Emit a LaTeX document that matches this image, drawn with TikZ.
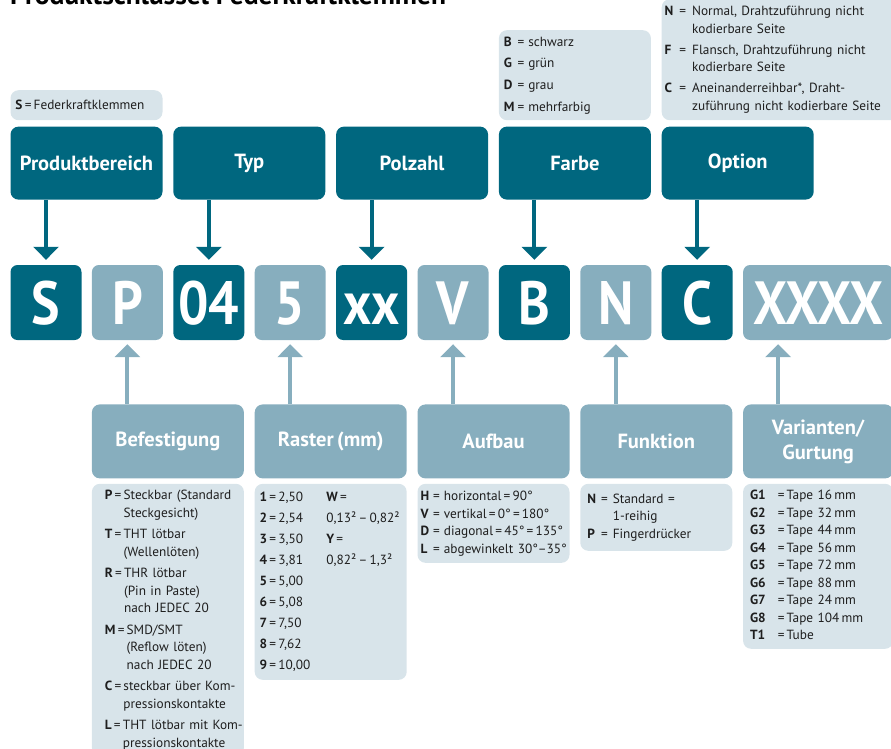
\documentclass[tikz,border=0pt]{standalone}
\usepackage{fontspec}
\setmainfont{PT Sans}
\newfontfamily\codefont{PT Sans}[FakeStretch=0.88]
\usetikzlibrary{arrows.meta,positioning}

\definecolor{petrol}{RGB}{0,103,127}
\definecolor{steel}{RGB}{135,174,190}
\definecolor{mist}{RGB}{216,228,234}
\definecolor{ink}{RGB}{30,30,30}

\newcommand{\indentkey}[1]{\phantom{\textbf{#1}\,=\,}}

\tikzset{
  codebox/.style={rounded corners=7pt, minimum width=71pt, minimum height=75pt, inner sep=0pt,
    text height=43pt, text depth=0pt, text=white, font=\codefont\bfseries\fontsize{61}{61}\selectfont},
  dark/.style={fill=petrol},
  pale/.style={fill=steel},
  headbox/.style={rounded corners=8pt, fill=petrol, minimum width=152pt, minimum height=73pt,
    inner sep=0pt, text=white, align=center, font=\bfseries\fontsize{20.5}{25}\selectfont},
  footbox/.style={headbox, fill=steel, minimum height=74pt},
  infobox/.style={rounded corners=8pt, fill=mist, text=ink, inner xsep=6pt, inner ysep=2pt,
    align=left, font=\fontsize{13.3}{17.5}\selectfont},
  downarrow/.style={draw=petrol, line width=4pt, -{Triangle[width=25pt,length=13pt]}},
  uparrow/.style={downarrow, draw=steel}
}

\begin{document}
\begin{tikzpicture}[x=1pt,y=-1pt]
\useasboundingbox (0,0) rectangle (891,748);

\node[anchor=base west, inner sep=0pt, font=\bfseries\fontsize{27.5}{32}\selectfont] (title) at (10,4) {Produktschlüssel Federkraftklemmen};

\node[codebox,dark] (kS) at (46,302.5) {S};
\node[codebox,pale,right=10pt of kS] (kP) {P};
\node[codebox,dark,right=10pt of kP] (k04) {04};
\node[codebox,pale,right=10pt of k04] (k5) {5};
\node[codebox,dark,right=10pt of k5] (kxx) {xx};
\node[codebox,pale,right=10pt of kxx] (kV) {V};
\node[codebox,dark,right=10pt of kV] (kB) {B};
\node[codebox,pale,right=10pt of kB] (kN) {N};
\node[codebox,dark,right=10pt of kN] (kC) {C};
\node[codebox,pale,right=10pt of kC,minimum width=150pt] (kX) {XXXX};
\coordinate (kXmark) at ([xshift=-40pt]kX.south);

\node[headbox,anchor=south west] (hProd) at ([yshift=65pt]kS.north west) {Produktbereich};
\node[headbox,anchor=south west] (hTyp) at ([yshift=65pt]k04.north west) {Typ};
\node[headbox,anchor=south west] (hPol) at ([yshift=65pt]kxx.north west) {Polzahl};
\node[headbox,anchor=south west] (hFarbe) at ([yshift=65pt]kB.north west) {Farbe};
\node[headbox,anchor=south west] (hOpt) at ([yshift=65pt]kC.north west) {Option};

\node[footbox,anchor=north west] (bBef) at ([yshift=-64pt]kP.south west) {Befestigung};
\node[footbox,anchor=north west] (bRas) at ([yshift=-64pt]k5.south west) {Raster\,(mm)};
\node[footbox,anchor=north west] (bAuf) at ([yshift=-64pt]kV.south west) {Aufbau};
\node[footbox,anchor=north west] (bFun) at ([yshift=-64pt]kN.south west) {Funktion};
\node[footbox,anchor=north west,minimum width=150pt] (bVar) at ([yshift=-64pt]kX.south west) {Varianten/\\Gurtung};

\draw[downarrow, shorten >=5pt] (hProd.south -| kS.north) -- (kS.north);
\draw[downarrow, shorten >=5pt] (hTyp.south -| k04.north) -- (k04.north);
\draw[downarrow, shorten >=5pt] (hPol.south -| kxx.north) -- (kxx.north);
\draw[downarrow, shorten >=5pt] (hFarbe.south -| kB.north) -- (kB.north);
\draw[downarrow, shorten >=5pt] (hOpt.south -| kC.north) -- (kC.north);

\draw[uparrow, shorten >=4pt] (bBef.north -| kP.south) -- (kP.south);
\draw[uparrow, shorten >=4pt] (bRas.north -| k5.south) -- (k5.south);
\draw[uparrow, shorten >=4pt] (bAuf.north -| kV.south) -- (kV.south);
\draw[uparrow, shorten >=4pt] (bFun.north -| kN.south) -- (kN.south);
\draw[uparrow, shorten >=4pt] (bVar.north -| kXmark) -- (kXmark);

\node[infobox,anchor=south west,minimum width=152pt,minimum height=30pt,text width=142pt,inner xsep=5pt] (dS)
  at ([yshift=6pt]hProd.north west) {\textbf{S}\,=\,Federkraftklemmen};

\node[infobox,anchor=south west,minimum width=152pt,minimum height=90pt,text width=142pt,inner xsep=5pt] (dFarbe)
  at ([yshift=6pt]hFarbe.north west) {%
  \begin{tabular}{@{}l@{\hspace{3pt}}c@{\hspace{4pt}}l@{}}
  \textbf{B} & = & schwarz\\[4.2pt]
  \textbf{G} & = & grün\\[4.2pt]
  \textbf{D} & = & grau\\[4.2pt]
  \textbf{M} & = & mehrfarbig
  \end{tabular}};

\node[infobox,anchor=south west,minimum width=242pt,minimum height=121pt,text width=236pt,inner xsep=3pt] (dOpt)
  at ([yshift=6pt]hOpt.north west) {%
  \begin{tabular}{@{}l@{\hspace{6pt}}c@{\hspace{6pt}}l@{}}
  \textbf{N} & = & Normal, Drahtzuführung nicht\\
             &   & kodierbare Seite\\[3.5pt]
  \textbf{F} & = & Flansch, Drahtzuführung nicht\\
             &   & kodierbare Seite\\[3.5pt]
  \textbf{C} & = & Aneinanderreihbar*, Draht-\\
             &   & zuführung nicht kodierbare Seite
  \end{tabular}};

\node[infobox,anchor=north west,minimum width=152pt,minimum height=272pt,text width=142pt,inner xsep=5pt] (dBef)
  at ([yshift=-5pt]bBef.south west) {%
  \begin{tabular}{@{\hspace{8pt}}l@{}}
  \textbf{P}\,=\,Steckbar (Standard\\ \indentkey{P}Steckgesicht)\\[4pt]
  \textbf{T}\,=\,THT lötbar\\ \indentkey{T}(Wellenlöten)\\[4pt]
  \textbf{R}\,=\,THR lötbar\\ \indentkey{R}(Pin in Paste)\\ \indentkey{R}nach JEDEC 20\\[4pt]
  \textbf{M}\,=\,SMD/SMT\\ \indentkey{M}(Reflow löten)\\ \indentkey{M}nach JEDEC 20\\[4pt]
  \textbf{C}\,=\,steckbar über Kom-\\ \indentkey{C}pressionskontakte\\[4pt]
  \textbf{L}\,=\,THT lötbar mit Kom-\\ \indentkey{L}pressionskontakte
  \end{tabular}};

\node[infobox,anchor=north west,minimum width=152pt,minimum height=196pt,text width=142pt,inner xsep=5pt] (dRas)
  at ([yshift=-5pt]bRas.south west) {%
  \begin{tabular}{@{}l@{\hspace{16pt}}l@{}}
  \textbf{1}\,=\,2,50 & \textbf{W}\,=\\[3.5pt]
  \textbf{2}\,=\,2,54 & 0,13²\,–\,0,82²\\[3.5pt]
  \textbf{3}\,=\,3,50 & \textbf{Y}\,=\\[3.5pt]
  \textbf{4}\,=\,3,81 & 0,82²\,–\,1,3²\\[3.5pt]
  \textbf{5}\,=\,5,00 & \\[3.5pt]
  \textbf{6}\,=\,5,08 & \\[3.5pt]
  \textbf{7}\,=\,7,50 & \\[3.5pt]
  \textbf{8}\,=\,7,62 & \\[3.5pt]
  \textbf{9}\,=\,10,00 &
  \end{tabular}};

\node[infobox,anchor=north west,minimum width=152pt,minimum height=79pt,text width=146pt,inner xsep=3pt] (dAuf)
  at ([yshift=-5pt]bAuf.south west) {%
  \begin{tabular}{@{}l@{\hspace{4pt}}c@{\hspace{4pt}}l@{}}
  \textbf{H} & = & horizontal\,=\,90°\\
  \textbf{V} & = & vertikal\,=\,0°\,=\,180°\\
  \textbf{D} & = & diagonal\,=\,45°\,=\,135°\\
  \textbf{L} & = & abgewinkelt 30°–35°
  \end{tabular}};

\node[infobox,anchor=north west,minimum width=152pt,minimum height=67pt,text width=138pt,inner xsep=7pt] (dFun)
  at ([yshift=-5pt]bFun.south west) {%
  \begin{tabular}{@{}l@{\hspace{5pt}}c@{\hspace{5pt}}l@{}}
  \textbf{N} & = & Standard =\\
             &   & 1-reihig\\
  \textbf{P} & = & Fingerdrücker
  \end{tabular}};

\node[infobox,anchor=north west,minimum width=150pt,minimum height=165pt,text width=136pt,inner xsep=7pt,inner ysep=1pt] (dVar)
  at ([yshift=-5pt]bVar.south west) {%
  \begin{tabular}{@{}l@{\hspace{12pt}}l@{}}
  \textbf{G1} & =\,Tape 16\,mm\\
  \textbf{G2} & =\,Tape 32\,mm\\
  \textbf{G3} & =\,Tape 44\,mm\\
  \textbf{G4} & =\,Tape 56\,mm\\
  \textbf{G5} & =\,Tape 72\,mm\\
  \textbf{G6} & =\,Tape 88\,mm\\
  \textbf{G7} & =\,Tape 24\,mm\\
  \textbf{G8} & =\,Tape 104\,mm\\
  \textbf{T1} & =\,Tube
  \end{tabular}};
\end{tikzpicture}
\end{document}
